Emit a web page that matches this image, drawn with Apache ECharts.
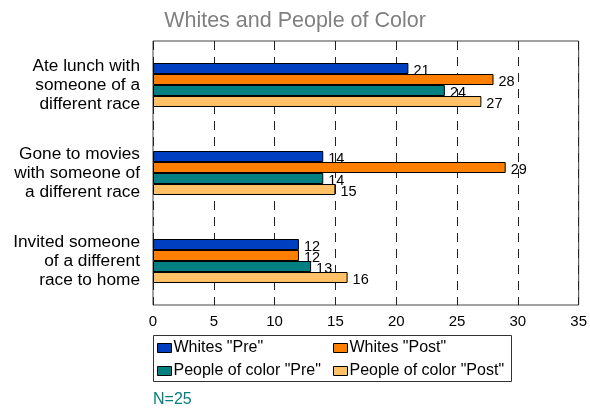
<!DOCTYPE html>
<html><head><meta charset="utf-8">
<script src="https://cdn.jsdelivr.net/npm/echarts@6/dist/echarts.min.js"></script>
<style>html,body{margin:0;padding:0;background:#fff}#c{width:590px;height:411px}</style>
</head><body><div id="c"></div>
<script>
var categories = ['Ate lunch with\nsomeone of a\ndifferent race', 'Gone to movies\nwith someone of\na different race', 'Invited someone\nof a different\nrace to home'];
var seriesNames = ['Whites "Pre"', 'Whites "Post"', 'People of color "Pre"', 'People of color "Post"'];
var whitesPre = [21, 14, 12];
var whitesPost = [28, 29, 12];
var pocPre = [24, 14, 13];
var pocPost = [27, 15, 16];
var xTicks = [0, 5, 10, 15, 20, 25, 30, 35];
var note = 'N=25';
var colors = ['#0040C0', '#FF8000', '#008080', '#FFC066'];
var values = [whitesPre, whitesPost, pocPre, pocPost];
var FONT = 'Liberation Sans, Arial, sans-serif';

var chart = echarts.init(document.getElementById('c'));
var series = values.map(function (v, i) {
  return {
    name: seriesNames[i], type: 'bar', data: v, barWidth: 11, barGap: '0%',
    itemStyle: { color: colors[i], borderColor: '#000', borderWidth: 1 },
    label: { show: true, position: 'right', distance: 5, offset: [0, 2], color: '#000', fontSize: 14.5, fontFamily: FONT }
  };
});
function legendItem(n) {
  return { name: n, itemStyle: { borderColor: '#000', borderWidth: 1 } };
}
chart.setOption({
  animation: false,
  title: { text: 'Whites and People of Color', left: 'center', top: 5, textStyle: { color: '#808080', fontSize: 21.5, fontWeight: 'normal', fontFamily: FONT } },
  grid: { left: 153, right: 11, top: 41, bottom: 106, show: true, borderColor: '#444', borderWidth: 1 },
  xAxis: {
    type: 'value', min: xTicks[0], max: xTicks[xTicks.length - 1], interval: xTicks[1] - xTicks[0],
    axisLine: { show: false }, axisTick: { show: false },
    axisLabel: { color: '#000', fontSize: 15, margin: 9, fontFamily: FONT },
    splitLine: { show: true, lineStyle: { color: '#222', type: [9, 7], width: 1 } }
  },
  yAxis: {
    type: 'category', data: categories, inverse: true,
    axisLine: { show: false }, axisTick: { show: false },
    axisLabel: { color: '#000', fontSize: 17.3, lineHeight: 19, margin: 13, align: 'right', fontFamily: FONT }
  },
  legend: [
    { orient: 'vertical', left: 155, top: 338, itemWidth: 14, itemHeight: 9, itemGap: 7, padding: 2,
      data: [legendItem(seriesNames[0]), legendItem(seriesNames[2])], icon: 'rect',
      textStyle: { color: '#000', fontSize: 16, fontFamily: FONT, padding: [0, 0, 0, -3] } },
    { orient: 'vertical', left: 331, top: 338, itemWidth: 14, itemHeight: 9, itemGap: 7, padding: 2,
      data: [legendItem(seriesNames[1]), legendItem(seriesNames[3])], icon: 'rect',
      textStyle: { color: '#000', fontSize: 16, fontFamily: FONT, padding: [0, 0, 0, -3] } }
  ],
  graphic: [
    { type: 'rect', shape: { x: 153.5, y: 335.5, width: 358, height: 46 }, style: { fill: 'none', stroke: '#333', lineWidth: 1 }, silent: true },
    { type: 'text', left: 153, top: 392, style: { text: note, fill: '#008080', fontSize: 16, fontFamily: FONT } }
  ],
  series: series
});
</script></body></html>
